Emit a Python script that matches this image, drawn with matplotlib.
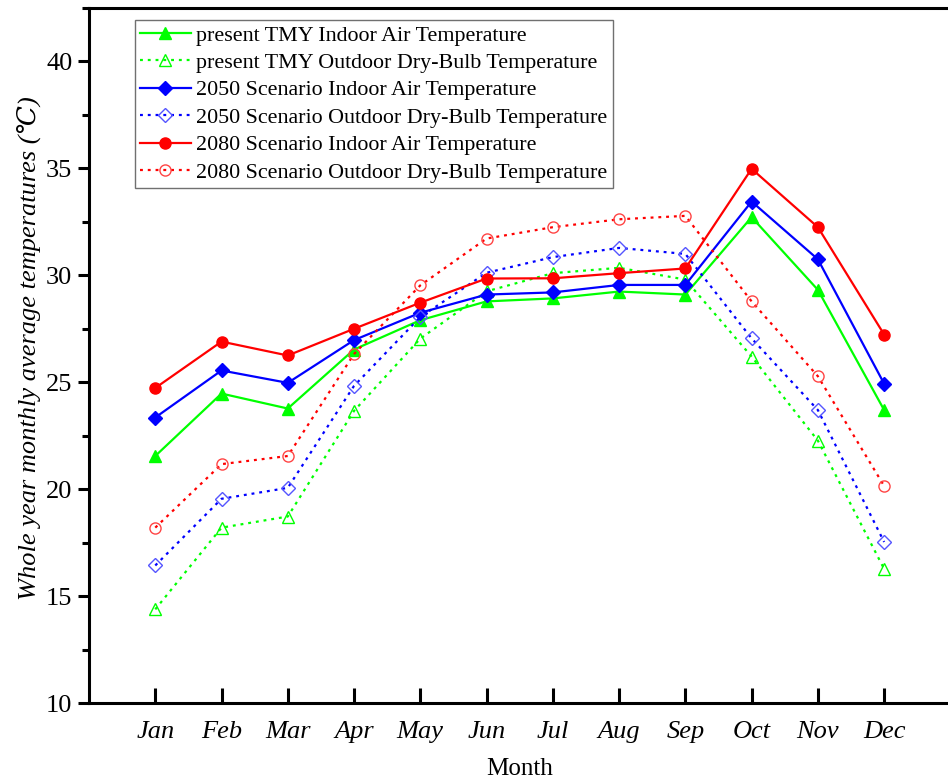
import matplotlib
matplotlib.use("Agg")
import matplotlib.pyplot as plt
from matplotlib.ticker import MultipleLocator

plt.rcParams['font.family'] = ['Liberation Serif', 'DejaVu Serif']

# 月份
months = ['Jan', 'Feb', 'Mar', 'Apr', 'May', 'Jun',
          'Jul', 'Aug', 'Sep', 'Oct', 'Nov', 'Dec']

# 室内空气温度 / 室外干球温度 (℃)
tmy_indoor = [21.55, 24.47, 23.77, 26.53, 27.9, 28.78, 28.92, 29.24, 29.1, 32.72, 29.32, 23.7]
tmy_outdoor = [14.38, 18.2, 18.72, 23.66, 27.04, 29.25, 30.1, 30.35, 29.8, 26.2, 22.27, 16.27]
s2050_indoor = [23.35, 25.55, 24.97, 26.97, 28.25, 29.1, 29.2, 29.55, 29.55, 33.45, 30.75, 24.93]
s2050_outdoor = [16.43, 19.55, 20.06, 24.83, 28.05, 30.12, 30.85, 31.28, 31.0, 27.05, 23.7, 17.53]
s2080_indoor = [24.73, 26.9, 26.25, 27.5, 28.72, 29.85, 29.86, 30.1, 30.32, 34.98, 32.25, 27.23]
s2080_outdoor = [18.2, 21.17, 21.55, 26.32, 29.53, 31.72, 32.25, 32.62, 32.78, 28.78, 25.28, 20.15]

labels = ['present TMY Indoor Air Temperature',
          'present TMY Outdoor Dry-Bulb Temperature',
          '2050 Scenario Indoor Air Temperature',
          '2050 Scenario Outdoor Dry-Bulb Temperature',
          '2080 Scenario Indoor Air Temperature',
          '2080 Scenario Outdoor Dry-Bulb Temperature']

fig = plt.figure(figsize=(9.48, 7.81), dpi=100)
ax = fig.add_axes([89 / 948, 78 / 781, 861.4 / 948, 695 / 781])

x = list(range(1, 13))
dot = (0, (1.3, 2.2))

ax.plot(x, tmy_indoor, color='#00ff00', lw=1.6, marker='^', ms=9, label=labels[0])
ax.plot(x, tmy_outdoor, color='#00ff00', lw=1.6, ls=dot, marker='^', ms=9,
        mfc='none', mew=1.0, label=labels[1])
ax.plot(x, s2050_indoor, color='#0000ff', lw=1.6, marker='D', ms=7, label=labels[2])
ax.plot(x, s2050_outdoor, color='#0000ff', lw=1.6, ls=dot, marker='D', ms=7,
        mfc='none', mec='#5555ff', mew=1.0, label=labels[3])
ax.plot(x, s2080_indoor, color='#ff0000', lw=1.6, marker='o', ms=8, label=labels[4])
ax.plot(x, s2080_outdoor, color='#ff0000', lw=1.6, ls=dot, marker='o', ms=8,
        mfc='none', mec='#ff4444', mew=1.0, label=labels[5])

ax.set_xlim(0, 13)
ax.set_ylim(10, 42.5)
ax.set_xticks(x)
ax.set_xticklabels(months, fontstyle='italic', fontsize=19)
ax.yaxis.set_major_locator(MultipleLocator(5))
ax.yaxis.set_minor_locator(MultipleLocator(2.5))
ax.tick_params(axis='y', which='major', direction='out', length=8, width=2.2, labelsize=19, pad=4)
ax.tick_params(axis='y', which='minor', direction='out', length=5, width=2.2)
ax.tick_params(axis='x', which='major', direction='in', length=11, width=2.2, pad=13)

for side in ['left', 'bottom', 'top']:
    ax.spines[side].set_linewidth(2.2)
ax.spines['right'].set_visible(False)

ax.set_xlabel('Month', fontsize=18, labelpad=11)
ax.set_ylabel('Whole year monthly average temperatures (℃)', fontsize=19,
              fontstyle='italic')
ax.yaxis.set_label_coords(-0.056, 0.51)

leg = ax.legend(loc='upper left', bbox_to_anchor=(0.053, 0.983), fontsize=15.8,
                frameon=True, fancybox=False, edgecolor='#707070', framealpha=1,
                handlelength=2.3, handletextpad=0.25, labelspacing=0.32,
                borderpad=0.25, borderaxespad=0)
leg.get_frame().set_linewidth(1.0)

fig.savefig('out.png', dpi=100)
